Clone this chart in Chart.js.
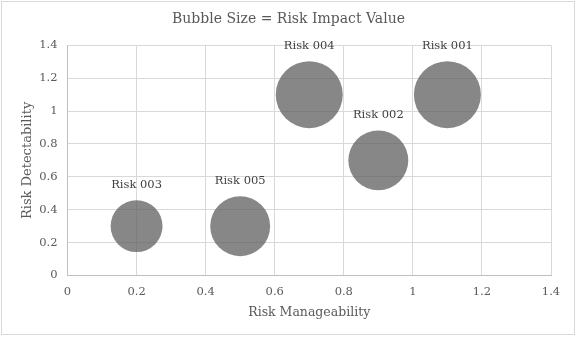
<!DOCTYPE html>
<html>
<head>
<meta charset="utf-8">
<script src="https://cdn.jsdelivr.net/npm/chart.js@4.4.0/dist/chart.umd.min.js"></script>
<style>
  html, body { margin: 0; padding: 0; background: #ffffff; }
  #wrap { width: 577px; height: 338px; position: relative; }
</style>
</head>
<body>
<div id="wrap"><canvas id="c" width="577" height="338"></canvas></div>
<script>
// ---- Data ----
const riskNames = ['Risk 001', 'Risk 002', 'Risk 003', 'Risk 004', 'Risk 005'];
const manageability = [1.1, 0.9, 0.2, 0.7, 0.5];
const detectability = [1.1, 0.7, 0.3, 1.1, 0.3];
const impactValues = [5, 4, 3, 5, 4];
const xTicks = [0, 0.2, 0.4, 0.6, 0.8, 1, 1.2, 1.4];
const yTicks = [0, 0.2, 0.4, 0.6, 0.8, 1, 1.2, 1.4];
const chartTitle = 'Bubble Size = Risk Impact Value';
const xTitle = 'Risk Manageability';
const yTitle = 'Risk Detectability';

// ---- Styling ----
const FONT = "'DejaVu Serif', 'Liberation Serif', serif";
const TEXT = '#595959';
const MAX_RADIUS = 33.5;
const maxImpact = Math.max(...impactValues);

const points = riskNames.map((n, i) => ({
  x: manageability[i],
  y: detectability[i],
  r: MAX_RADIUS * Math.sqrt(impactValues[i] / maxImpact)
}));

const borderPlugin = {
  id: 'outerBorder',
  beforeDraw(chart) {
    const ctx = chart.ctx;
    ctx.save();
    ctx.fillStyle = '#ffffff';
    ctx.fillRect(0, 0, chart.width, chart.height);
    ctx.strokeStyle = '#d9d9d9';
    ctx.lineWidth = 1;
    ctx.strokeRect(1.5, 1.5, chart.width - 4, chart.height - 5);
    ctx.restore();
  }
};

const labelPlugin = {
  id: 'bubbleLabels',
  afterDatasetsDraw(chart) {
    const ctx = chart.ctx;
    const meta = chart.getDatasetMeta(0);
    ctx.save();
    ctx.font = "11.5px " + FONT;
    ctx.fillStyle = '#404040';
    ctx.textAlign = 'center';
    ctx.textBaseline = 'middle';
    meta.data.forEach((el, i) => {
      const r = el.options.radius;
      ctx.fillText(riskNames[i], el.x, el.y - r - 15);
    });
    ctx.restore();
  }
};

new Chart(document.getElementById('c'), {
  type: 'bubble',
  data: {
    datasets: [{
      label: 'Risks',
      data: points,
      backgroundColor: 'rgba(89,89,89,0.72)',
      borderWidth: 0,
      hoverBorderWidth: 0
    }]
  },
  options: {
    responsive: false,
    animation: false,
    events: [],
    layout: { padding: 0, autoPadding: false },
    plugins: {
      legend: { display: false },
      tooltip: { enabled: false },
      title: {
        display: true,
        text: chartTitle,
        color: TEXT,
        font: { family: FONT, size: 14, weight: 'normal' },
        padding: { top: 11, bottom: 17.5 }
      }
    },
    scales: {
      x: {
        type: 'linear',
        min: 0, max: 1.4,
        afterBuildTicks(scale) { scale.ticks = xTicks.map(v => ({ value: v })); },
        afterFit(scale) {
          scale.height = 62.5;
          scale.paddingLeft = 0;
          scale.paddingRight = 0;
        },
        ticks: {
          color: TEXT,
          font: { family: FONT, size: 11.5 },
          padding: 10,
          maxRotation: 0,
          callback: v => String(v)
        },
        grid: { color: '#d9d9d9', drawTicks: false, tickLength: 0 },
        border: { color: '#bfbfbf' },
        title: {
          display: true,
          text: xTitle,
          color: TEXT,
          font: { family: FONT, size: 12.5 },
          padding: { top: 0, bottom: 17.5 }
        }
      },
      y: {
        type: 'linear',
        min: 0, max: 1.4,
        afterBuildTicks(scale) { scale.ticks = yTicks.map(v => ({ value: v })); },
        afterFit(scale) { scale.width = 67.5; },
        ticks: {
          color: TEXT,
          font: { family: FONT, size: 11.5 },
          padding: 10,
          callback: v => String(v)
        },
        grid: { color: '#d9d9d9', drawTicks: false, tickLength: 0 },
        border: { color: '#bfbfbf' },
        title: {
          display: true,
          text: yTitle,
          color: TEXT,
          font: { family: FONT, size: 13 },
          padding: { top: 20, bottom: 0 }
        }
      },
      yRightSpace: {
        type: 'linear',
        position: 'right',
        display: true,
        min: 0, max: 1,
        afterFit(scale) { scale.width = 26; },
        ticks: { display: false },
        grid: { display: false, drawTicks: false },
        border: { display: false },
        title: { display: false }
      }
    }
  },
  plugins: [borderPlugin, labelPlugin]
});
</script>
</body>
</html>
